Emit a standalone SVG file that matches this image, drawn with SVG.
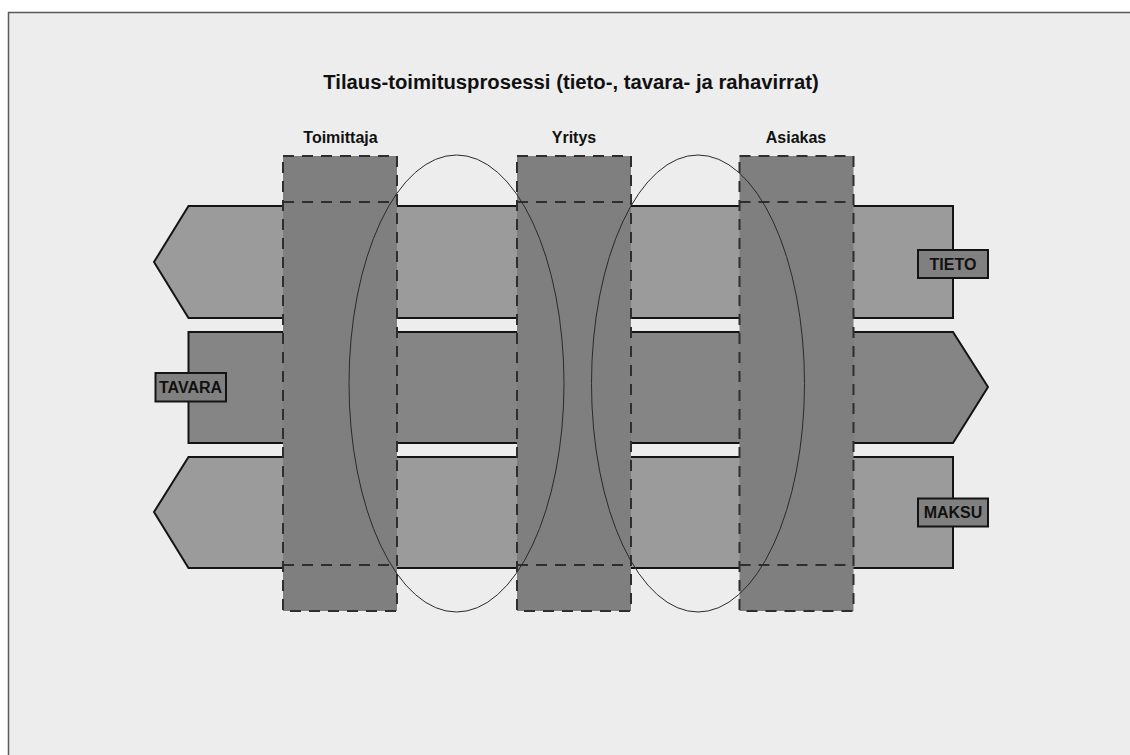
<svg xmlns="http://www.w3.org/2000/svg" width="1130" height="755" viewBox="0 0 1130 755">
<style>
.arrow{stroke:#141414;stroke-width:2;stroke-linejoin:miter}
.light{fill:#9b9b9b}
.dark{fill:#858585}
.col{fill:#7f7f7f;stroke:#2e2e2e;stroke-width:2;stroke-dasharray:11 8}
.dash{stroke:#2e2e2e;stroke-width:2;stroke-dasharray:11 8;fill:none}
.ell{fill:none;stroke:#2a2a2a;stroke-width:1}
.lbl{fill:#808080;stroke:#141414;stroke-width:2}
.t{font-family:"Liberation Sans",Arial,sans-serif;font-weight:bold;fill:#111;text-anchor:middle}
</style>
<rect x="0" y="0" width="1130" height="755" fill="#ffffff"/>
<rect x="8.5" y="12.5" width="1130" height="750" fill="#ededed" stroke="#5a5a5a" stroke-width="1.5"/>
<text class="t" x="571" y="89" font-size="20.3">Tilaus-toimitusprosessi (tieto-, tavara- ja rahavirrat)</text>
<g id="tieto">
<polygon class="arrow light" points="953,206 953,318 188.5,318 154,262 188.5,206"/>
</g>
<g id="tavara">
<polygon class="arrow dark" points="188.5,332 953,332 988,387 953,443 188.5,443"/>
</g>
<g id="maksu">
<polygon class="arrow light" points="953,457 953,568 188.5,568 154,512 188.5,457"/>
</g>
<g id="toimittaja">
<rect class="col" x="283" y="156" width="114" height="455"/>
<line class="dash" x1="283" y1="202" x2="397" y2="202"/>
<line class="dash" x1="283" y1="565" x2="397" y2="565"/>
<text class="t" x="340.5" y="143" font-size="16">Toimittaja</text>
</g>
<g id="yritys">
<rect class="col" x="517" y="156" width="114" height="455"/>
<line class="dash" x1="517" y1="202" x2="631" y2="202"/>
<line class="dash" x1="517" y1="565" x2="631" y2="565"/>
<text class="t" x="574" y="143" font-size="16">Yritys</text>
</g>
<g id="asiakas">
<rect class="col" x="739.5" y="156" width="114" height="455"/>
<line class="dash" x1="739.5" y1="202" x2="853.5" y2="202"/>
<line class="dash" x1="739.5" y1="565" x2="853.5" y2="565"/>
<text class="t" x="796" y="143" font-size="16">Asiakas</text>
</g>
<g id="connectors">
<ellipse class="ell" cx="456.5" cy="383.5" rx="107.5" ry="228.5"/>
<ellipse class="ell" cx="698" cy="383.5" rx="106.5" ry="228.5"/>
</g>
<g id="label-tieto">
<rect class="lbl" x="918" y="250" width="70" height="28"/>
<text class="t" x="953" y="269.5" font-size="16">TIETO</text>
</g>
<g id="label-tavara">
<rect class="lbl" x="155.5" y="373" width="70.5" height="28.5"/>
<text class="t" x="190.5" y="392.5" font-size="16">TAVARA</text>
</g>
<g id="label-maksu">
<rect class="lbl" x="918" y="498.5" width="70" height="28"/>
<text class="t" x="953" y="518" font-size="16">MAKSU</text>
</g>
</svg>
